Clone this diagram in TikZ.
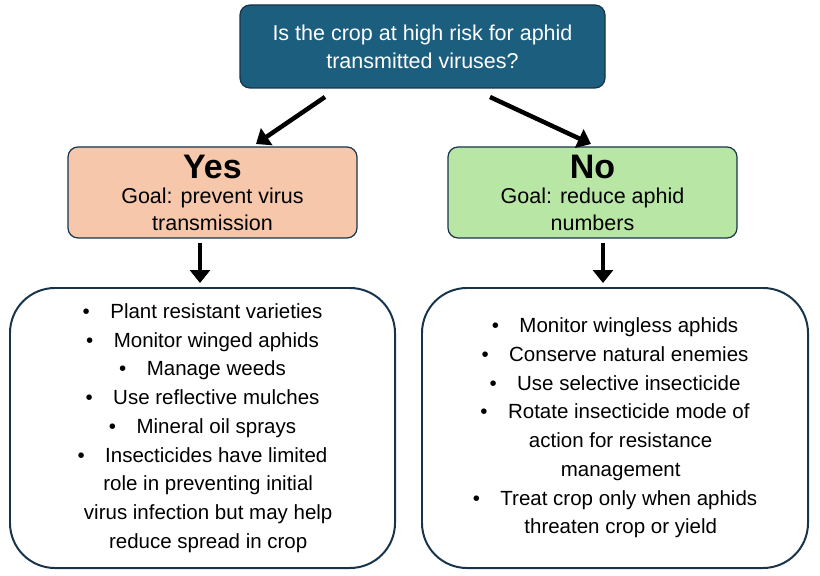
\documentclass[tikz,border=0pt]{standalone}
\usepackage{fontspec}
\setmainfont{Liberation Sans}
\usetikzlibrary{arrows.meta}
\definecolor{qblue}{HTML}{1B5E7E}
\definecolor{yesfill}{HTML}{F6C7AA}
\definecolor{nofill}{HTML}{B8E6A4}
\definecolor{edge}{HTML}{17344A}
\begin{document}
\begin{tikzpicture}[x=1bp,y=-1bp,>=latex,
  box/.style={draw=edge,line width=1.2pt,rounded corners=10bp,align=center},
  list/.style={draw=edge,line width=2pt,rounded corners=45bp,align=center,
    font=\fontsize{20.5bp}{28.7bp}\selectfont},
  arr/.style={->,line width=4.5pt,>={Triangle[length=13bp,width=20bp]}}]
\useasboundingbox (0,0) rectangle (820,576);
%%
\node (question) at (422.5,46.5) [box,fill=qblue,text=white,minimum width=365bp,minimum height=83bp,
  font=\fontsize{21.5bp}{28bp}\selectfont] {Is the crop at high risk for aphid\\transmitted viruses?};
\node (yes) at (212.5,192.5) [box,fill=yesfill,minimum width=289bp,minimum height=91bp,
  font=\fontsize{21.5bp}{28bp}\selectfont] {{\fontsize{34bp}{34bp}\selectfont\bfseries Yes}\\[-3bp]Goal: prevent virus\\[-1bp]transmission};
\node (no) at (592.5,192.5) [box,fill=nofill,minimum width=289bp,minimum height=91bp,
  font=\fontsize{21.5bp}{28bp}\selectfont] {{\fontsize{34bp}{34bp}\selectfont\bfseries No}\\[-3bp]Goal: reduce aphid\\[-1bp]numbers};
\node (yeslist) at (202.5,428) [list,minimum width=385bp,minimum height=280bp] {%
\textbullet\quad Plant resistant varieties\\
\textbullet\quad Monitor winged aphids\\
\textbullet\quad Manage weeds\\
\textbullet\quad Use reflective mulches\\
\textbullet\quad Mineral oil sprays\\
\textbullet\quad Insecticides have limited\\
\ \ role in preventing initial\\
\ \ virus infection but may help\\
\ \ reduce spread in crop};
\node (nolist) at (615,428) [list,minimum width=386bp,minimum height=280bp] {%
\textbullet\quad Monitor wingless aphids\\
\textbullet\quad Conserve natural enemies\\
\textbullet\quad Use selective insecticide\\
\textbullet\quad Rotate insecticide mode of\\
\ \ action for resistance\\
\ \ management\\
\textbullet\quad Treat crop only when aphids\\
\ \ threaten crop or yield};
%
\coordinate (qleft) at (325,97);
\coordinate (qright) at (490,97);
\coordinate (yestop) at (256,144);
\coordinate (notop) at (591,144);
\coordinate (yesbot) at (200,243);
\coordinate (nobot) at (603,243);
\coordinate (yeslisttop) at (200,283);
\coordinate (nolisttop) at (603,283);
\draw [arr] (qleft) -- (yestop);
\draw [arr] (qright) -- (notop);
\draw [arr] (yesbot) -- (yeslisttop);
\draw [arr] (nobot) -- (nolisttop);
%
\end{tikzpicture}
\end{document}
